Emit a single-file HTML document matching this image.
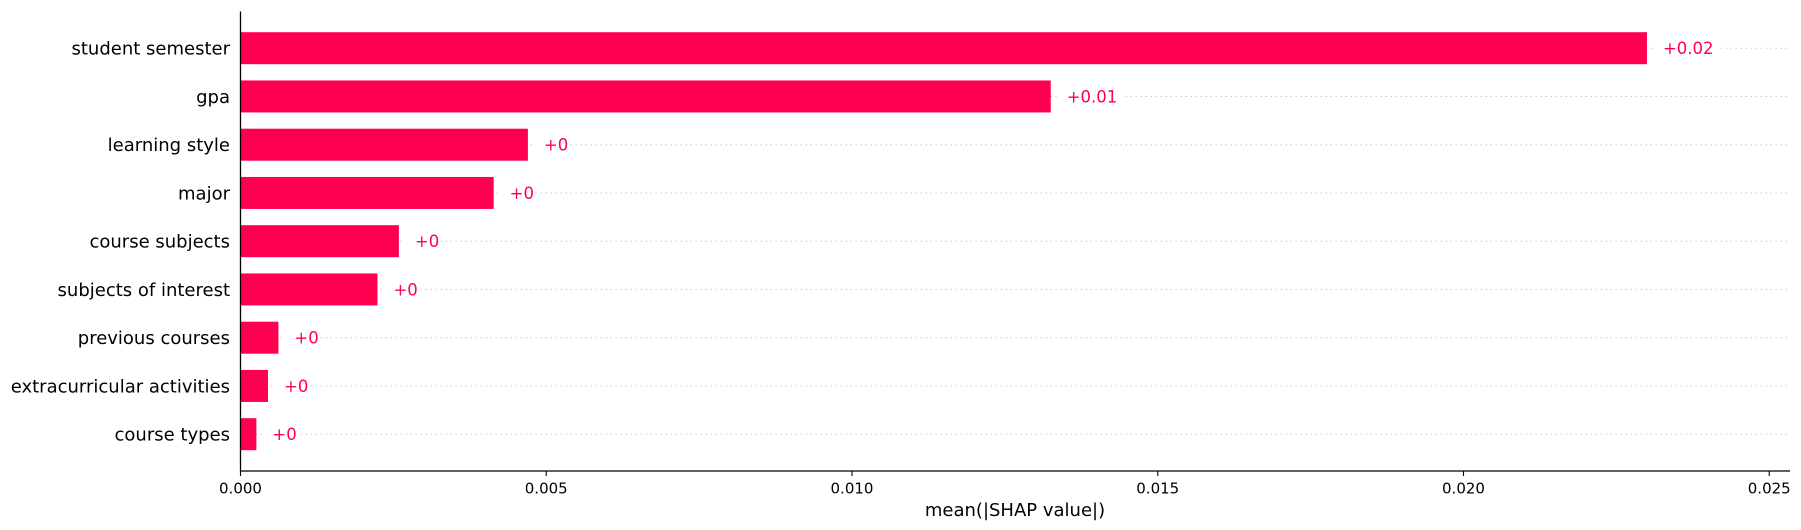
<!DOCTYPE html>
<html><head><meta charset="utf-8"><style>
html,body{margin:0;padding:0;background:#fff;}
svg{display:block;font-family:"DejaVu Sans","Liberation Sans",sans-serif;}
</style></head><body>
<svg id="chart" width="1801" height="530" viewBox="0 0 1801 530"></svg>
<script>
const categories = ["student semester","gpa","learning style","major","course subjects","subjects of interest","previous courses","extracurricular activities","course types"];
const values = [0.0230,0.01325,0.0047,0.00414,0.00259,0.00224,0.00062,0.00045,0.00026];
const valueLabels = ["+0.02","+0.01","+0","+0","+0","+0","+0","+0","+0"];
const tickValues = [0,0.005,0.010,0.015,0.020,0.025];
const tickLabels = ["0.000","0.005","0.010","0.015","0.020","0.025"];

const NS="http://www.w3.org/2000/svg";
const svg=document.getElementById('chart');
const x0=240.5, pxPerUnit=61150, axisRight=1790, axisTop=11.5, axisBottom=471;
const rowTop=48.2, rowStep=48.25, barH=32;
const xs=v=>x0+v*pxPerUnit;
const ys=i=>rowTop+i*rowStep;
function mk(tag,attrs,text){const e=document.createElementNS(NS,tag);for(const k in attrs)e.setAttribute(k,attrs[k]);if(text!==undefined)e.textContent=text;svg.appendChild(e);return e;}

categories.forEach((c,i)=>{
  const y=ys(i);
  const g=mk('line',{x1:x0,x2:axisRight,y1:y,y2:y,stroke:'#cccccc','stroke-width':1,'stroke-dasharray':'1.5,3.5'});
  
  
  const b=mk('rect',{x:x0,y:y-barH/2,width:Math.max(0,xs(values[i])-x0),height:barH,fill:'#ff0051'});
  
  
  const bg=mk('rect',{x:xs(values[i])+6,y:y-9,width:valueLabels[i].length*10.5+14,height:18,fill:'#fff'});
  
  
  const v=mk('text',{x:xs(values[i])+16,y:y+6,fill:'#ff0051','font-size':'16.5px'},valueLabels[i]);
  
  
  const l=mk('text',{x:230,y:y+6.5,'text-anchor':'end',fill:'#000','font-size':'18px'},c);
  
  
});
const ya=mk('line',{x1:x0,x2:x0,y1:axisTop,y2:axisBottom,stroke:'#000','stroke-width':1.3});


const xa=mk('line',{x1:x0,x2:axisRight,y1:axisBottom,y2:axisBottom,stroke:'#000','stroke-width':1.3});


tickValues.forEach((t,i)=>{
  const tk=mk('line',{x1:xs(t),x2:xs(t),y1:axisBottom,y2:axisBottom+5,stroke:'#000','stroke-width':1.1});
  
  
  const tl=mk('text',{x:xs(t),y:493.5,'text-anchor':'middle',fill:'#000','font-size':'15px'},tickLabels[i]);
  
  
});
const xt=mk('text',{x:1015,y:516,'text-anchor':'middle',fill:'#000','font-size':'18px'},'mean(|SHAP value|)');


</script>
</body></html>
